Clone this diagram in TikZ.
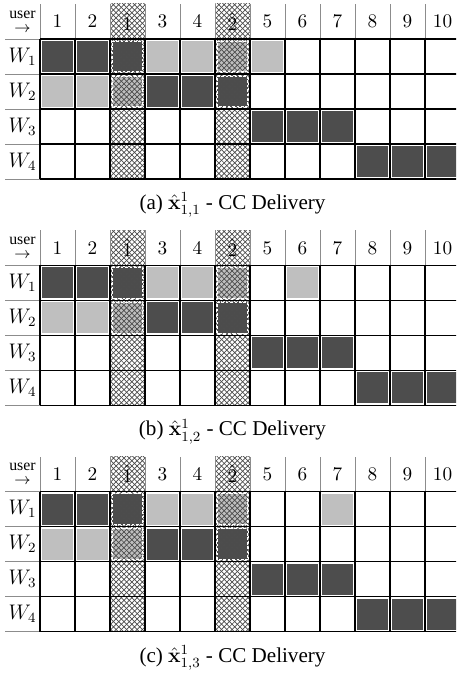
\documentclass[tikz,border=0pt]{standalone}
\usepackage{amsmath,amssymb}
\usepackage[no-math]{fontspec}
\setmainfont{Liberation Serif}
\usepackage{tikz}
\usetikzlibrary{patterns}
\definecolor{darkcell}{RGB}{77,77,77}
\definecolor{lightcell}{RGB}{191,191,191}
\definecolor{rulegray}{RGB}{140,140,140}

\begin{document}
\begin{tikzpicture}[x=0.7cm,y=0.7cm,
    hatchedge/.style={white,line width=0.6pt,dash pattern=on 1.5pt off 1pt},
    thinrule/.style={rulegray,line width=0.4pt},
    gridrule/.style={black,line width=0.8pt},
    headtxt/.style={font=\fontsize{11}{11}\selectfont,inner sep=0pt},
    captxt/.style={font=\fontsize{12}{14}\selectfont,inner sep=0pt}]
  \useasboundingbox (-1.1429,0) rectangle (11.886,-19.343);
  \clip (-1.1429,0) rectangle (11.886,-19.343);
  \foreach \p/\tag/\lc in {0/a/7,1/b/8,2/c/9}{
    \begin{scope}[shift={(0,{-1.114-6.467*\p})}]
      % filled cells
      \foreach \c/\r/\tone in {1/1/darkcell,2/1/darkcell,3/1/darkcell,4/1/lightcell,
          5/1/lightcell,6/1/lightcell,\lc/1/lightcell,
          1/2/lightcell,2/2/lightcell,3/2/lightcell,4/2/darkcell,5/2/darkcell,6/2/darkcell,
          7/3/darkcell,8/3/darkcell,9/3/darkcell,
          10/4/darkcell,11/4/darkcell,12/4/darkcell}
        \fill[fill=\tone] ({\c-0.94},{-\r+0.06}) rectangle ({\c-0.06},{-\r+0.94});
      % coded columns
      \foreach \c in {3,6}
        \fill[pattern=crosshatch,pattern color=black!70] ({\c-1},1) rectangle (\c,-4);
      \foreach \c/\r in {3/1,3/2,6/1,6/2}
        \draw[hatchedge] ({\c-0.94},{-\r+0.06}) rectangle ({\c-0.06},{-\r+0.94});
      % rules
      \foreach \c in {0,...,12}
        \draw[thinrule] (\c,0) -- (\c,1);
      \foreach \r in {0,...,4}
        \draw[thinrule] (-1,-\r) -- (0,-\r);
      \foreach \r in {0,...,4}
        \draw[gridrule] (0,-\r) -- (12,-\r);
      \foreach \c in {0,...,12}
        \draw[gridrule] (\c,0) -- (\c,-4);
      % labels
      \node[align=center,inner sep=0pt,font=\fontsize{9}{8}\selectfont] (usr-\tag) at (-0.5,0.5) {user\\$\rightarrow$};
      \foreach \t [count=\c] in {1,2,\hat{1},3,4,\hat{2},5,6,7,8,9,10}
        \node[headtxt] (hdr-\tag-\c) at ({\c-0.5},0.5) {$\t$};
      \foreach \r in {1,...,4}
        \node[headtxt,font=\fontsize{12}{12}\selectfont] (row-\tag-\r) at (-0.5,{-\r+0.5}) {$W_{\r}$};
      \node[captxt] (cap-\tag) at (5.5,-4.75) {(\tag) $\hat{\mathbf{x}}^{1}_{1,\the\numexpr\p+1\relax}$ - CC Delivery};
    \end{scope}
  }
\end{tikzpicture}
\end{document}
